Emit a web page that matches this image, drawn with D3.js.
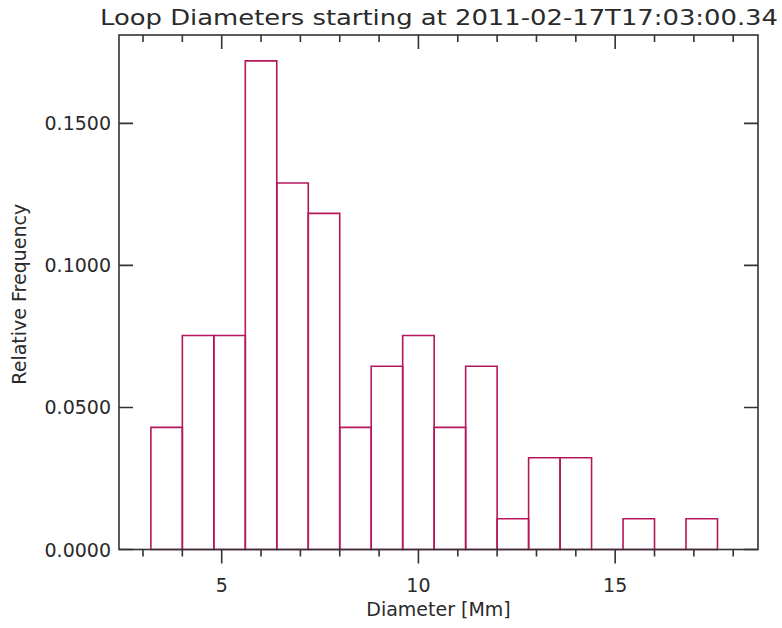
<!DOCTYPE html>
<html>
<head>
<meta charset="utf-8">
<script src="https://cdn.jsdelivr.net/npm/d3@7"></script>
<style>
  html, body { margin: 0; padding: 0; background: #fff; }
  svg { display: block; }
  text { font-family: "DejaVu Sans", sans-serif; fill: #2a2a2a; }
</style>
</head>
<body>
<svg id="chart" width="782" height="628"></svg>
<script>
// ---- data ----
const title = "Loop Diameters starting at 2011-02-17T17:03:00.34";
const xLabel = "Diameter [Mm]";
const yLabel = "Relative Frequency";
const binStart = 3.2;      // left edge of first bin [Mm]
const binWidth = 0.8;      // bin width [Mm]
const relFreq = [0.0430, 0.0753, 0.0753, 0.1720, 0.1290, 0.1183, 0.0430, 0.0645, 0.0753,
                 0.0430, 0.0645, 0.0108, 0.0323, 0.0323, 0.0000, 0.0108, 0.0000, 0.0108];
const xMajorTicks = [5, 10, 15];
const xMinorTicks = [3, 4, 6, 7, 8, 9, 11, 12, 13, 14, 16, 17, 18];
const yTicks = [0.0, 0.05, 0.10, 0.15];
const xDomain = [2.39, 18.63];
const yDomain = [0, 0.1811];

// ---- layout ----
const svg = d3.select("#chart");
const L = 119, R = 758, T = 35, B = 549.5;
const axisColor = "#333";
const barColor = "#b5175c";

const x = d3.scaleLinear().domain(xDomain).range([L, R]);
const y = d3.scaleLinear().domain(yDomain).range([B, T]);

// bars (histogram outlines; zero bins drawn as a line on the baseline)
const bins = relFreq.map((v, i) => ({ x0: binStart + i * binWidth, x1: binStart + (i + 1) * binWidth, v }));
svg.append("g").selectAll("path").data(bins).join("path")
  .attr("d", d => `M${x(d.x0)},${y(0)}V${y(d.v)}H${x(d.x1)}V${y(0)}Z`)
  .attr("fill", "none")
  .attr("stroke", barColor)
  .attr("stroke-width", 1.6);

// frame
const frame = svg.append("g").attr("stroke", axisColor).attr("stroke-width", 1.6).attr("fill", "none");
frame.append("rect").attr("x", L).attr("y", T).attr("width", R - L).attr("height", B - T);

// x ticks (bottom & top)
const majLen = 14, minLen = 7;
frame.selectAll(".xmaj").data(xMajorTicks).join("path")
  .attr("class", "xmaj")
  .attr("d", d => `M${x(d)},${B}v${majLen}M${x(d)},${T}v${majLen}`);
frame.selectAll(".xmin").data(xMinorTicks).join("path")
  .attr("class", "xmin")
  .attr("d", d => `M${x(d)},${B}v${minLen}M${x(d)},${T}v${minLen}`);
// y ticks (left & right, inward)
frame.selectAll(".ymaj").data(yTicks).join("path")
  .attr("class", "ymaj")
  .attr("d", d => `M${L},${y(d)}h${majLen}M${R},${y(d)}h${-majLen}`);

// tick labels
svg.append("g").selectAll("text").data(xMajorTicks).join("text")
  .attr("x", d => x(d)).attr("y", 592)
  .attr("text-anchor", "middle").attr("font-size", 19)
  .text(d => d3.format("d")(d));
svg.append("g").selectAll("text").data(yTicks).join("text")
  .attr("x", 111).attr("y", d => y(d) + 7)
  .attr("text-anchor", "end").attr("font-size", 19)
  .text(d => d3.format(".4f")(d));

// axis titles
svg.append("text").attr("x", (L + R) / 2).attr("y", 616)
  .attr("text-anchor", "middle").attr("font-size", 19).text(xLabel);
svg.append("text")
  .attr("transform", `translate(26,${(T + B) / 2 + 2}) rotate(-90)`)
  .attr("text-anchor", "middle").attr("font-size", 19).text(yLabel);

// title
svg.append("text").attr("x", 100).attr("y", 25)
  .attr("font-size", 21)
  .attr("textLength", 678).attr("lengthAdjust", "spacingAndGlyphs")
  .text(title);
</script>
</body>
</html>
